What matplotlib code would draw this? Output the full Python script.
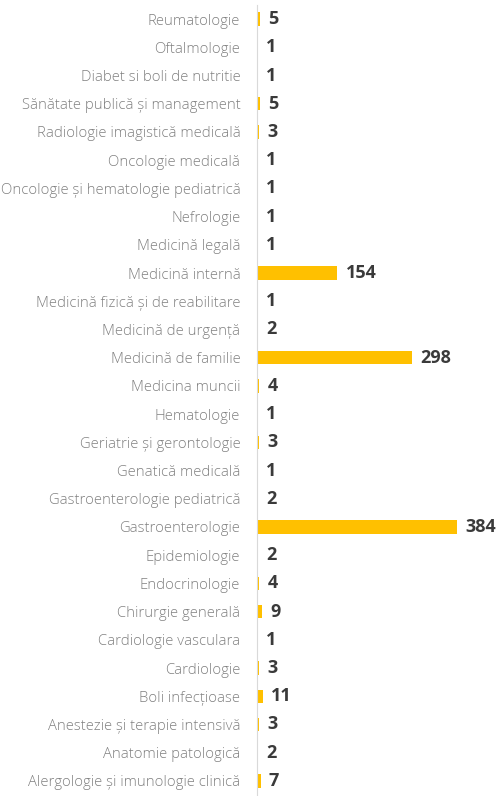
import matplotlib.pyplot as plt

categories = [
    "Reumatologie", "Oftalmologie", "Diabet si boli de nutritie",
    "Sănătate publică și management", "Radiologie imagistică medicală",
    "Oncologie medicală", "Oncologie și hematologie pediatrică", "Nefrologie",
    "Medicină legală", "Medicină internă", "Medicină fizică și de reabilitare",
    "Medicină de urgență", "Medicină de familie", "Medicina muncii",
    "Hematologie", "Geriatrie și gerontologie", "Genatică medicală",
    "Gastroenterologie pediatrică", "Gastroenterologie", "Epidemiologie",
    "Endocrinologie", "Chirurgie generală", "Cardiologie vasculara",
    "Cardiologie", "Boli infecțioase", "Anestezie și terapie intensivă",
    "Anatomie patologică", "Alergologie și imunologie clinică",
]
values = [5, 1, 1, 5, 3, 1, 1, 1, 1, 154, 1, 2, 298, 4, 1, 3, 1, 2, 384,
          2, 4, 9, 1, 3, 11, 3, 2, 7]

fig = plt.figure(figsize=(5.02, 7.96), dpi=100)
ax = fig.add_axes([257 / 502, 1 / 796, 245 / 502, 790 / 796])

y = range(len(categories))
ax.barh(y, values, height=0.47, color="#FFC000")
ax.set_xlim(0, 470)
ax.set_ylim(len(categories) - 0.5, -0.5)

ax.set_yticks(list(y))
ax.set_yticklabels(categories, fontsize=10.7, color="#808080",
                   fontweight="light", family=["Open Sans", "DejaVu Sans"])
ax.tick_params(axis="y", length=0, pad=12)
ax.set_xticks([])

for sp in ["top", "right", "bottom"]:
    ax.spines[sp].set_visible(False)
ax.spines["left"].set_color("#d9d9d9")
ax.spines["left"].set_linewidth(0.8)

for i, v in enumerate(values):
    ax.annotate(str(v), (v, i), xytext=(6, 0), textcoords="offset points",
                va="center", ha="left", fontsize=13, fontweight="bold",
                color="#3a3a3a", family=["Open Sans", "DejaVu Sans"])

fig.savefig("out.png", dpi=100)
